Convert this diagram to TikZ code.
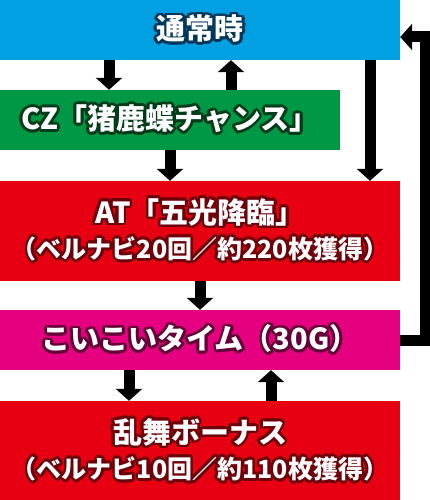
\documentclass[tikz,border=0pt]{standalone}
\usepackage{fontspec}
\usepackage[copies]{contour}
\usetikzlibrary{arrows.meta,positioning}

\newfontfamily\jpfont{Noto Sans CJK JP}[BoldFont={Noto Sans CJK JP Black}]
\definecolor{boxblue}{RGB}{0,160,227}
\definecolor{boxgreen}{RGB}{0,152,68}
\definecolor{boxred}{RGB}{230,0,18}
\definecolor{boxpink}{RGB}{228,0,127}
\definecolor{lineblue}{RGB}{0,55,90}
\definecolor{linegreen}{RGB}{0,60,25}
\definecolor{linered}{RGB}{110,0,10}
\definecolor{linepink}{RGB}{100,0,55}
\contourlength{2.6pt}
\contournumber{24}
\newcommand{\headtext}{\fontsize{29}{30}\selectfont}
\newcommand{\subtext}{\fontsize{25}{30}\selectfont}

\begin{document}
\begin{tikzpicture}[x=1pt,y=-1pt,
    every node/.style={font=\jpfont\bfseries, text=white, inner sep=0pt, align=center},
    state/.style={minimum width=400pt, minimum height=60pt},
    arr/.style={-{Triangle[width=26pt,length=12pt]}, line width=11pt}]

        \useasboundingbox (0,0) rectangle (430,500);

        \coordinate (A) at (200,30);
        \coordinate (B) at (170,120);
        \coordinate (C) at (200,231);
        \coordinate (D) at (200,340);
        \coordinate (E) at (200,451);
        \node[state,fill=boxblue] (QA) at (A) {\headtext\contour{lineblue}{通常時}};
        \node[state,fill=boxgreen,minimum width=340pt] (QB) at (B) {\headtext\contour{linegreen}{CZ「猪鹿蝶チャンス」}};
        \node[state,fill=boxred,minimum height=100pt] (QC) at (C) {\headtext\contour{linered}{AT「五光降臨」}\\[7pt]\subtext\contour{linered}{（ベルナビ20回／約220枚獲得）}};
        \node[state,fill=boxpink] (QD) at (D) {\headtext\contour{linepink}{こいこいタイム（30G）}};
        \node[state,fill=boxred,minimum height=100pt] (QE) at (E) {\headtext\contour{linered}{乱舞ボーナス}\\[7pt]\subtext\contour{linered}{（ベルナビ10回／約110枚獲得）}};

        \coordinate (X1) at (109,0);
        \coordinate (X2) at (231,0);
        \coordinate (X3) at (170,0);
        \coordinate (X4) at (370,0);
        \coordinate (X5) at (200,0);
        \coordinate (X6) at (129,0);
        \coordinate (X7) at (271,0);
        \coordinate (L) at (425,37);
        \draw[arr] (QA.south -| X1) -- (QB.north -| X1);
        \draw[arr] (QB.north -| X2) -- (QA.south -| X2);
        \draw[arr] (QB.south -| X3) -- (QC.north -| X3);
        \draw[arr] (QA.south -| X4) -- (QC.north -| X4);
        \draw[arr] (QC.south -| X5) -- (QD.north -| X5);
        \draw[arr] (QD.south -| X6) -- (QE.north -| X6);
        \draw[arr] (QE.north -| X7) -- (QD.south -| X7);
        \draw[arr] (QD.east) -| (L) -- (QA.east |- L);
      \end{tikzpicture}
\end{document}
